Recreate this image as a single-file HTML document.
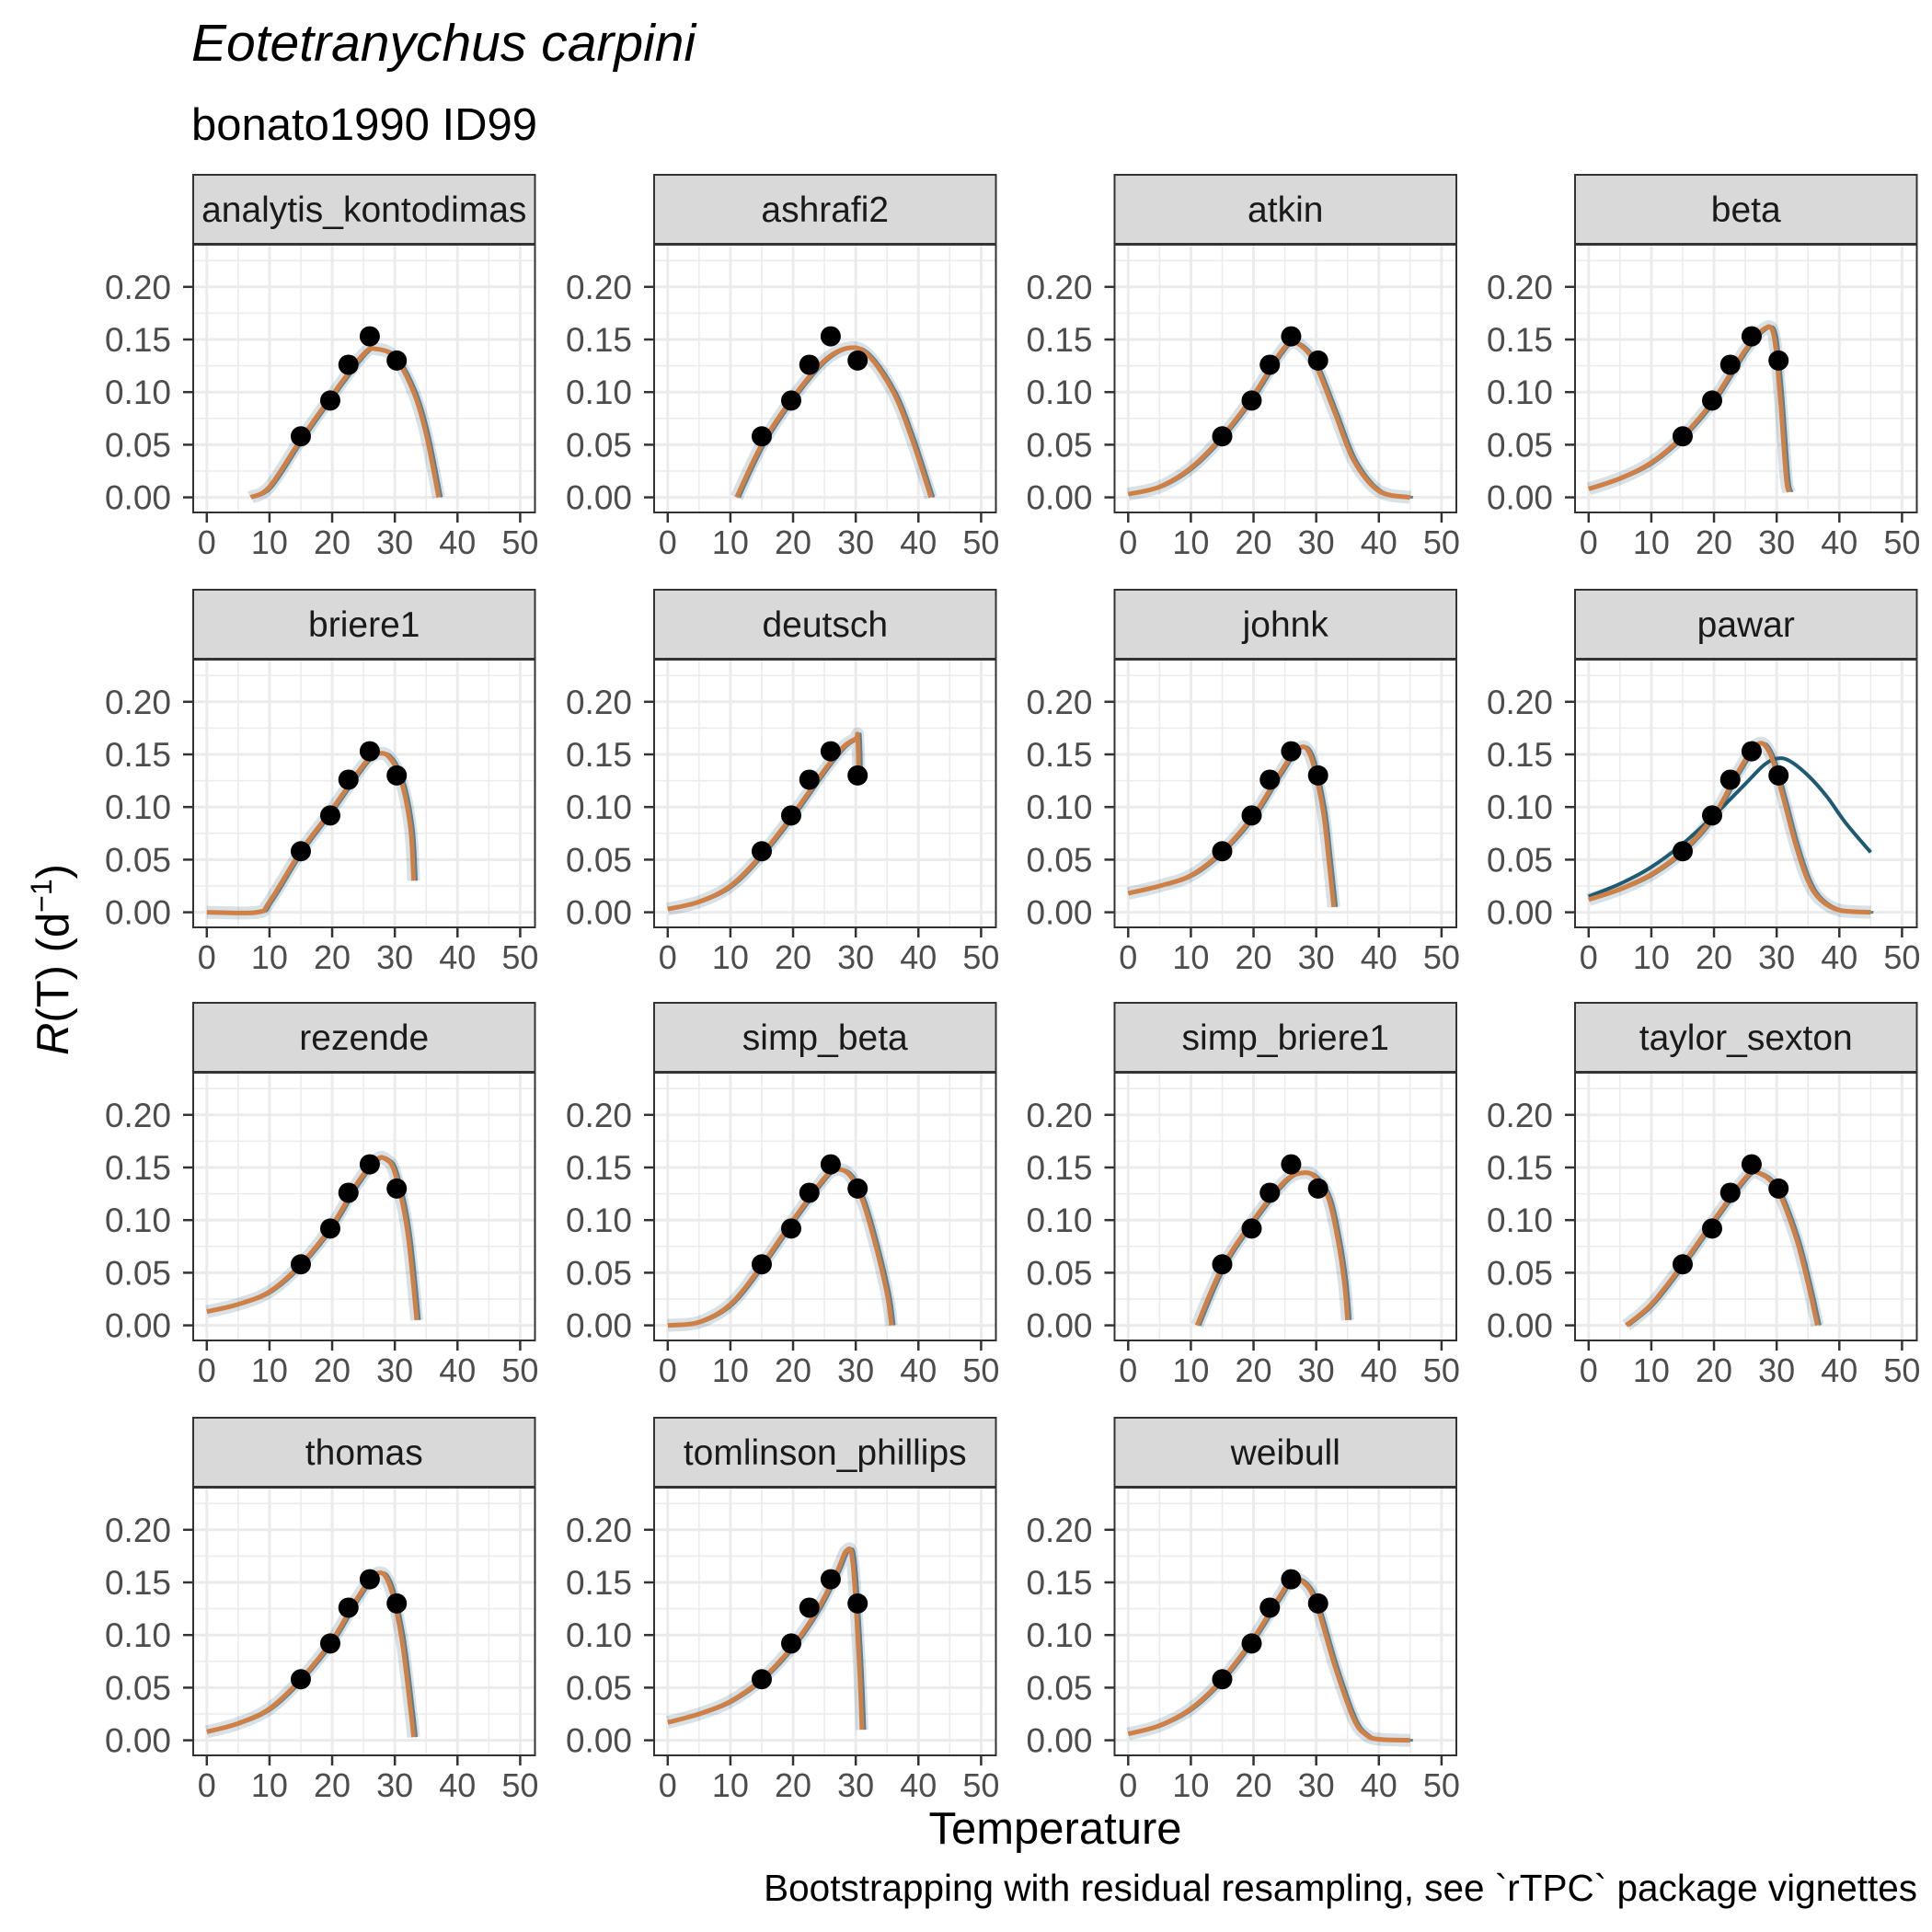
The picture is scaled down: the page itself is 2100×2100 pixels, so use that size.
<!DOCTYPE html>
<html><head><meta charset="utf-8"><style>
html,body{margin:0;padding:0;background:#fff}
svg{display:block;font-family:"Liberation Sans",Arial,sans-serif}
</style></head><body>
<svg id="chart" width="2100" height="2100" viewBox="0 0 2100 2100" xmlns="http://www.w3.org/2000/svg">
<rect width="2100" height="2100" fill="#fff"/>
<text x="208" y="66" font-size="57" font-style="italic" fill="#000">Eotetranychus carpini</text>
<text x="208" y="152" font-size="49" fill="#000">bonato1990 ID99</text>
<text x="1147" y="2004" font-size="49" text-anchor="middle" fill="#000">Temperature</text>
<text transform="translate(74,1043) rotate(-90)" font-size="49" text-anchor="middle" fill="#000"><tspan font-style="italic">R</tspan>(T) (d<tspan font-size="32" dy="-18">−1</tspan><tspan dy="18">)</tspan></text>
<text x="2084" y="2066" font-size="40.5" text-anchor="end" fill="#000">Bootstrapping with residual resampling, see `rTPC` package vignettes</text>
<g id="panels"></g>
</svg>
<script>
const panelNames = ["analytis_kontodimas","ashrafi2","atkin","beta","briere1","deutsch","johnk","pawar","rezende","simp_beta","simp_briere1","taylor_sexton","thomas","tomlinson_phillips","weibull"];
const obsTemp = [15, 19.7, 22.6, 26, 30.3];
const obsRate = [0.058, 0.092, 0.126, 0.153, 0.130];
const xTicks = [0,10,20,30,40,50];
const yTicks = [0,0.05,0.10,0.15,0.20];
const yTickLabels = ["0.00","0.05","0.10","0.15","0.20"];
const fitT = [
 [7,10,15,20,25,27,30,33,35,37],
 [11,15,20,25,29,32,36,39,42],
 [0,5,10,15,20,24,26,28,30,33,36,40,45],
 [0,5,10,15,20,25,28,29.5,30.5,31.5,32],
 [0,8,10,15,20,25,27,29,31,32.5,33],
 [0,5,10,15,20,25,28,30,30.3,30.5],
 [0,5,10,15,20,24,27,29,31,32,32.8],
 [0,5,10,15,20,24,27,29,31,33,35,37,40,45],
 [0,5,10,15,20,24,27,28.5,30,32,33.5],
 [0,5,10,15,20,25,27,29,31,33,35,35.7],
 [11,15,20,25,28,30,32,33.5,34.5,35],
 [6,10,15,20,25,27,30,33,35,36.5],
 [0,5,10,15,20,24,27,29,31,32.5,33],
 [0,5,10,15,20,24,27,28.5,29.5,30.5,31],
 [0,5,10,15,20,24,26,28,30,33,36,38,40,45]
];
const fitR = [
 [0,0.01,0.055,0.097,0.136,0.141,0.133,0.1,0.06,0],
 [0,0.05,0.095,0.13,0.142,0.135,0.1,0.055,0],
 [0.003,0.01,0.028,0.058,0.097,0.135,0.147,0.142,0.125,0.08,0.035,0.006,0],
 [0.008,0.018,0.033,0.058,0.093,0.14,0.16,0.155,0.1,0.02,0.005],
 [0,0,0.01,0.058,0.098,0.14,0.15,0.148,0.125,0.08,0.03],
 [0.003,0.01,0.025,0.055,0.093,0.135,0.157,0.165,0.167,0.13],
 [0.018,0.025,0.035,0.058,0.092,0.13,0.155,0.15,0.1,0.05,0.005],
 [0.012,0.022,0.036,0.058,0.092,0.135,0.16,0.15,0.11,0.065,0.03,0.012,0.002,0],
 [0.013,0.02,0.032,0.058,0.095,0.135,0.157,0.158,0.145,0.09,0.005],
 [0,0.003,0.02,0.057,0.1,0.14,0.148,0.143,0.12,0.08,0.03,0],
 [0,0.055,0.1,0.137,0.145,0.14,0.12,0.08,0.04,0.005],
 [0,0.02,0.058,0.1,0.14,0.145,0.13,0.085,0.04,0],
 [0.008,0.016,0.03,0.058,0.095,0.135,0.158,0.15,0.1,0.03,0.003],
 [0.017,0.025,0.037,0.058,0.09,0.125,0.16,0.18,0.17,0.08,0.01],
 [0.006,0.014,0.03,0.058,0.097,0.135,0.152,0.15,0.13,0.07,0.02,0.005,0.001,0]
];
const pawarBootT = [0,5,10,15,20,25,28,30,32,35,38,41,45];
const pawarBootR = [0.015,0.027,0.043,0.065,0.092,0.122,0.14,0.146,0.144,0.13,0.11,0.085,0.057];

const NS="http://www.w3.org/2000/svg";
const root=document.getElementById('panels');
function mk(tag,attrs,parent){const e=document.createElementNS(NS,tag);for(const k in attrs)e.setAttribute(k,attrs[k]);parent.appendChild(e);return e;}
const colX=[210,711,1211.5,1712], rowY=[190,641,1090,1541];
const PW=371.5, SH=75, PH=291;
function smooth(pts){
 let d=`M${pts[0][0]},${pts[0][1]}`;
 for(let i=0;i<pts.length-1;i++){
  const p0=pts[Math.max(0,i-1)],p1=pts[i],p2=pts[i+1],p3=pts[Math.min(pts.length-1,i+2)];
  const c1=[p1[0]+(p2[0]-p0[0])/6,p1[1]+(p2[1]-p0[1])/6];
  const c2=[p2[0]-(p3[0]-p1[0])/6,p2[1]-(p3[1]-p1[1])/6];
  d+=` C${c1[0]},${c1[1]} ${c2[0]},${c2[1]} ${p2[0]},${p2[1]}`;
 }
 return d;
}
panelNames.forEach((name,i)=>{
 const L=colX[i%4], T=rowY[Math.floor(i/4)], PT=T+SH+1;
 const xs=t=>L+14.8+t*6.812;
 const ys=r=>PT+274.6-r*1144;
 const g=mk('g',{},root);
 
 
 const strip=mk('rect',{x:L,y:T,width:PW,height:SH,fill:'#d9d9d9',stroke:'#333','stroke-width':2},g);
 
 
 const st=mk('text',{x:L+PW/2,y:T+51,'font-size':39,'text-anchor':'middle',fill:'#1a1a1a'},g);
 st.textContent=name;
 
 
 mk('rect',{x:L,y:PT,width:PW,height:PH,fill:'#fff'},g);
 for(let t=5;t<=50;t+=10){mk('line',{x1:xs(t),x2:xs(t),y1:PT,y2:PT+PH,stroke:'#ebebeb','stroke-width':1.5},g);}
 for(let r=0.025;r<0.24;r+=0.05){mk('line',{x1:L,x2:L+PW,y1:ys(r),y2:ys(r),stroke:'#ebebeb','stroke-width':1.5},g);}
 xTicks.forEach(t=>mk('line',{x1:xs(t),x2:xs(t),y1:PT,y2:PT+PH,stroke:'#ebebeb','stroke-width':3},g));
 yTicks.forEach(r=>mk('line',{x1:L,x2:L+PW,y1:ys(r),y2:ys(r),stroke:'#ebebeb','stroke-width':3},g));
 const fp=fitT[i].map((t,k)=>[xs(t),ys(fitR[i][k])]);
 const bw=mk('path',{d:smooth(fp),fill:'none',stroke:'#1f5a73','stroke-width':14,'stroke-opacity':0.18},g);
 
 
 const bl=mk('path',{d:smooth(fp.map(p=>[p[0]+3,p[1]])),fill:'none',stroke:'#1f5a73','stroke-width':3,'stroke-opacity':0.7},g);
 
 
 if(name==='pawar'){
  const bp=pawarBootT.map((t,k)=>[xs(t),ys(pawarBootR[k])]);
  const pb=mk('path',{d:smooth(bp),fill:'none',stroke:'#1f5a73','stroke-width':4},g);
  
  
 }
 const fit=mk('path',{d:smooth(fp),fill:'none',stroke:'#d08045','stroke-width':5,'stroke-linecap':'butt'},g);
 
 
 obsTemp.forEach((t,k)=>{
  const c=mk('circle',{cx:xs(t),cy:ys(obsRate[k]),r:11,fill:'#000'},g);
  
  
 });
 mk('rect',{x:L,y:PT,width:PW,height:PH,fill:'none',stroke:'#333','stroke-width':2},g);
 xTicks.forEach(t=>{
  mk('line',{x1:xs(t),x2:xs(t),y1:PT+PH,y2:PT+PH+11,stroke:'#333','stroke-width':2.5},g);
  const tx=mk('text',{x:xs(t),y:PT+PH+45,'font-size':36,'text-anchor':'middle',fill:'#4d4d4d'},g);
  tx.textContent=t;
  
  
 });
 yTicks.forEach((r,k)=>{
  mk('line',{x1:L-11,x2:L,y1:ys(r),y2:ys(r),stroke:'#333','stroke-width':2.5},g);
  const ty=mk('text',{x:L-24,y:ys(r)+13,'font-size':37,'text-anchor':'end',fill:'#4d4d4d'},g);
  ty.textContent=yTickLabels[k];
  
  
 });
});
</script>
</body></html>
